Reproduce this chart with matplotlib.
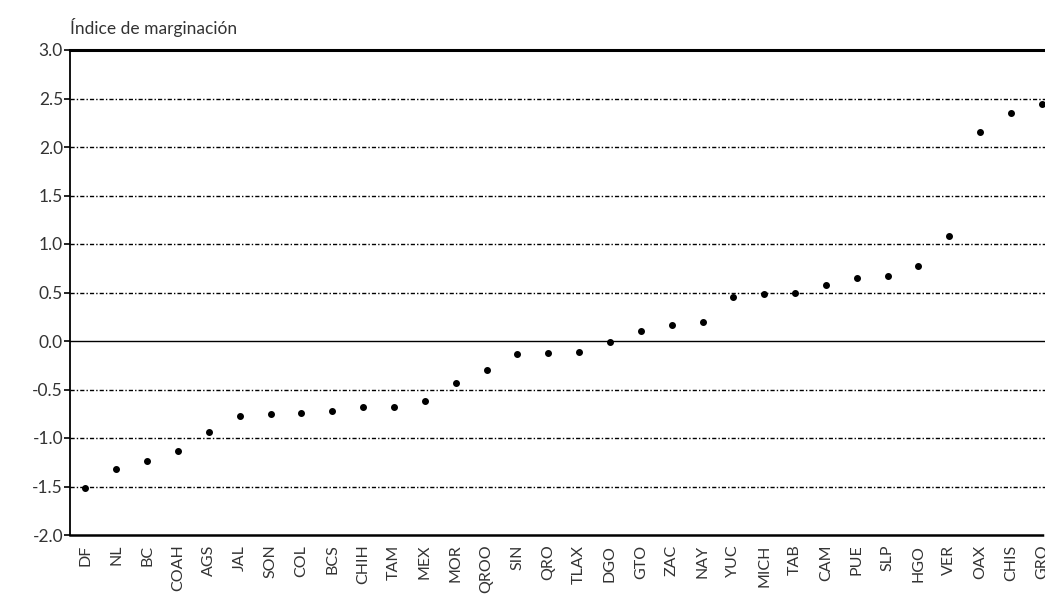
import matplotlib.pyplot as plt

plt.rcParams['font.family'] = ['Lato', 'DejaVu Sans']

estados = ['DF', 'NL', 'BC', 'COAH', 'AGS', 'JAL', 'SON', 'COL', 'BCS', 'CHIH',
           'TAM', 'MEX', 'MOR', 'QROO', 'SIN', 'QRO', 'TLAX', 'DGO', 'GTO', 'ZAC',
           'NAY', 'YUC', 'MICH', 'TAB', 'CAM', 'PUE', 'SLP', 'HGO', 'VER', 'OAX',
           'CHIS', 'GRO']
indice = [-1.52, -1.32, -1.24, -1.13, -0.94, -0.77, -0.75, -0.74, -0.72, -0.68,
          -0.68, -0.62, -0.43, -0.30, -0.13, -0.12, -0.11, -0.01, 0.10, 0.16,
          0.20, 0.45, 0.48, 0.49, 0.58, 0.65, 0.67, 0.77, 1.08, 2.15,
          2.35, 2.44]
yticks = [-2.0, -1.5, -1.0, -0.5, 0.0, 0.5, 1.0, 1.5, 2.0, 2.5, 3.0]

fig = plt.figure(figsize=(10.45, 6.09), dpi=100)
ax = fig.add_axes([70 / 1045, 1 - 535 / 609, 1 - 70 / 1045, 485 / 609])

x = list(range(len(estados)))
ax.scatter(x, indice, s=16, color='black', zorder=3)

# lineas horizontales
for v in yticks:
    if v == 0.0:
        ax.axhline(v, color='black', lw=1.0, zorder=1)
    elif v in (-2.0, 3.0):
        continue
    else:
        ax.axhline(v, color='black', lw=1.0, linestyle=(0, (3, 1.5, 1, 1.5)), zorder=1)

ax.set_xlim(-0.5, 31.1)
ax.set_ylim(-2.0, 3.0)
ax.set_yticks(yticks)
ax.set_yticklabels(['%.1f' % v for v in yticks], fontsize=12.5, color='#333333')
ax.set_xticks(x)
ax.set_xticklabels(estados, rotation=90, fontsize=11.5, color='#333333')
ax.tick_params(axis='x', length=0, pad=7)
ax.tick_params(axis='y', length=4, width=1.2, direction='out', pad=1)

ax.spines['right'].set_visible(False)
ax.spines['top'].set_linewidth(2.2)
ax.spines['left'].set_linewidth(1.3)
ax.spines['bottom'].set_linewidth(1.8)
ax.spines['bottom'].set_linestyle((0, (4, 1, 1, 1)))

fig.text(70 / 1045, 1 - 34 / 609, 'Índice de marginación', fontsize=12.5,
         color='#333333', ha='left', va='baseline')

fig.savefig('out.png', dpi=100)
